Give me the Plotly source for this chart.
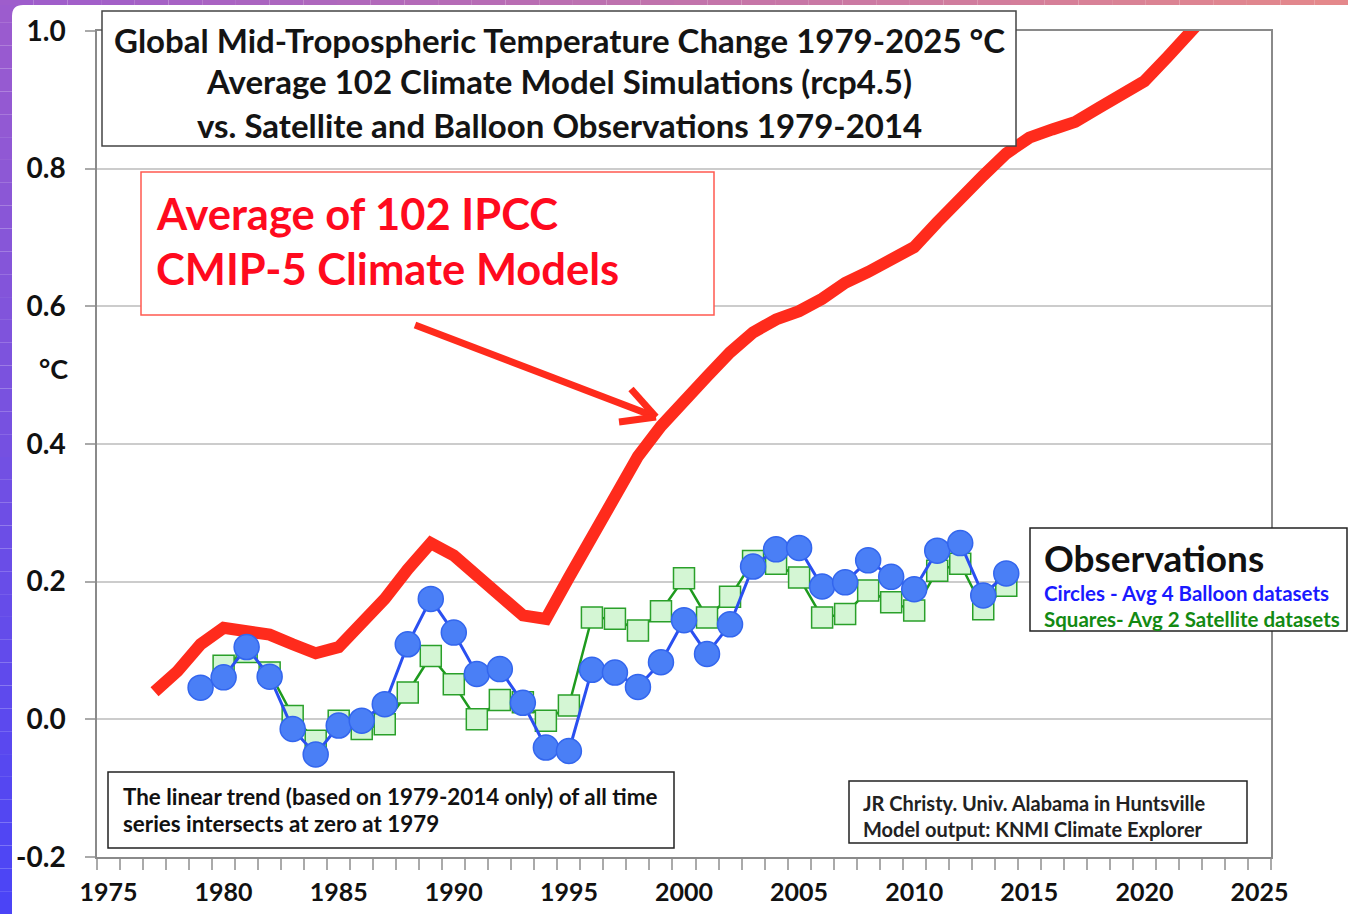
import plotly.graph_objects as go

# ---------------- data ----------------
model_years = list(range(1977, 2024))
model_vals = [0.040, 0.070, 0.109, 0.133, 0.128, 0.123, 0.109, 0.096, 0.105, 0.138,
              0.175, 0.218, 0.256, 0.238, 0.211, 0.180, 0.151, 0.146, 0.206, 0.265,
              0.324, 0.382, 0.426, 0.465, 0.498, 0.533, 0.562, 0.581, 0.593, 0.611,
              0.634, 0.650, 0.667, 0.686, 0.722, 0.758, 0.790, 0.822, 0.845, 0.857,
              0.868, 0.888, 0.906, 0.927, 0.962, 0.998, 1.035]

balloon_years = list(range(1979, 2015))
balloon_vals = [0.046, 0.061, 0.105, 0.062, -0.014, -0.051, -0.009, -0.002, 0.022, 0.109,
                0.175, 0.126, 0.066, 0.073, 0.024, -0.041, -0.046, 0.072, 0.068, 0.047,
                0.083, 0.144, 0.095, 0.138, 0.222, 0.247, 0.249, 0.193, 0.199, 0.231,
                0.207, 0.189, 0.245, 0.256, 0.180, 0.212]
satellite_years = list(range(1980, 2015))
satellite_vals = [0.078, 0.098, 0.068, 0.005, -0.031, -0.002, -0.014, -0.007, 0.039,
                  0.092, 0.051, 0.000, 0.028, 0.025, -0.002, 0.020, 0.148, 0.146, 0.129,
                  0.157, 0.205, 0.148, 0.178, 0.230, 0.226, 0.206, 0.148, 0.153, 0.187,
                  0.170, 0.158, 0.216, 0.226, 0.160, 0.194]

x_tick_vals = list(range(1975, 2026, 5))
x_tick_text = [str(v) for v in x_tick_vals]
y_tick_vals = [-0.2, 0.0, 0.2, 0.4, 0.6, 0.8, 1.0]
y_tick_text = ["-0.2", "0.0", "0.2", "0.4", "0.6", "0.8", "1.0"]

# ---------------- layout geometry ----------------
W, H = 1348, 914
L, R, T, B = 97, 1271, 31, 857
FONT = "Lato"


def px(x):
    return (x - L) / (R - L)


def py(y):
    return (B - y) / (B - T)


fig = go.Figure()

fig.add_trace(go.Scatter(x=model_years, y=model_vals, mode="lines",
                         line=dict(color="#ff2b1c", width=12), hoverinfo="skip",
                         showlegend=False))
fig.add_trace(go.Scatter(x=satellite_years, y=satellite_vals, mode="lines+markers",
                         line=dict(color="#1e9a1e", width=2.5),
                         marker=dict(symbol="square", size=21, color="#d4f6d4",
                                     line=dict(color="#2aa02a", width=1.5)),
                         showlegend=False))
fig.add_trace(go.Scatter(x=balloon_years, y=balloon_vals, mode="lines+markers",
                         line=dict(color="#2a4ff0", width=3),
                         marker=dict(symbol="circle", size=25, color="#4a7ff6",
                                     line=dict(color="#3366ee", width=1.5)),
                         showlegend=False))

shapes = []


def box(x0, y0, x1, y1, color="#222222", width=1.5):
    shapes.append(dict(type="rect", xref="paper", yref="paper", layer="above",
                       x0=px(x0), x1=px(x1), y0=py(y1), y1=py(y0),
                       fillcolor="white", line=dict(color=color, width=width)))


box(102, 11, 1016, 146, color="#444444")
box(141, 172, 714, 315, color="#ff5a50")
box(1030, 528, 1347, 631)
box(108, 772, 674, 848)
box(849, 781, 1247, 843)


# arrow
def seg(x0, y0, x1, y1, w=7):
    shapes.append(dict(type="line", xref="paper", yref="paper", layer="above",
                       x0=px(x0), y0=py(y0), x1=px(x1), y1=py(y1),
                       line=dict(color="#ff2b1c", width=w)))


seg(415, 325, 656, 417)
seg(631, 389, 656, 417)
seg(619, 422, 656, 417)


# gradient frame (purple / blue / pink)
def lerp(c0, c1, t):
    return "rgb(%d,%d,%d)" % tuple(round(a + (b - a) * t) for a, b in zip(c0, c1))


N = 40
top_l, bot_l, top_r = (157, 92, 205), (74, 68, 247), (229, 137, 138)
for i in range(N):
    y0 = H * i / N
    y1 = H * (i + 1) / N
    shapes.append(dict(type="rect", xref="paper", yref="paper", layer="above",
                       x0=px(0), x1=px(12), y0=py(y1), y1=py(y0),
                       fillcolor=lerp(top_l, bot_l, (i + 0.5) / N), line=dict(width=0)))
    x0 = W * i / N
    x1 = W * (i + 1) / N
    shapes.append(dict(type="rect", xref="paper", yref="paper", layer="above",
                       x0=px(x0), x1=px(x1), y0=py(5), y1=py(0),
                       fillcolor=lerp(top_l, top_r, (i + 0.5) / N), line=dict(width=0)))
shapes.append(dict(type="path", xref="paper", yref="paper", layer="above",
                   path="M %f,%f L %f,%f Q %f,%f %f,%f Z" % (
                       px(12), py(5), px(12), py(16), px(12), py(5), px(23), py(5)),
                   fillcolor="rgb(157,92,205)", line=dict(width=0)))

annotations = []


def txt(x, y, s, size, color="#111111", xanchor="left"):
    annotations.append(dict(xref="paper", yref="paper", x=px(x), y=py(y), text=s,
                            showarrow=False, xanchor=xanchor, yanchor="middle",
                            font=dict(family=FONT, size=size, color=color, weight="bold")))


txt(559, 40, "Global Mid-Tropospheric Temperature Change 1979-2025 °C", 33, "#141414", "center")
txt(559, 81, "Average 102 Climate Model Simulations (rcp4.5)", 33, "#141414", "center")
txt(559, 125, "vs. Satellite and Balloon Observations 1979-2014", 33, "#141414", "center")
txt(154, 213, "Average of 102 IPCC", 43.5, "#ff0a1e")
txt(154, 268, "CMIP-5 Climate Models", 43.5, "#ff0a1e")
txt(1042, 557, "Observations", 37, "#111111")
txt(1042, 593, "Circles - Avg 4 Balloon datasets", 20.5, "#1a1aff")
txt(1042, 619, "Squares- Avg 2 Satellite datasets", 20.5, "#138a13")
txt(121, 796, "The linear trend (based on 1979-2014 only) of all time", 22.4)
txt(121, 823, "series intersects at zero at 1979", 22.4)
txt(861, 803, "JR Christy. Univ. Alabama in Huntsville", 20, "#222222")
txt(861, 829, "Model output: KNMI Climate Explorer", 20, "#222222")
txt(53, 368, "°C", 27, "#111111", "center")

fig.update_layout(
    width=W, height=H, autosize=False,
    margin=dict(l=L, r=W - R, t=T, b=H - B, pad=0, autoexpand=False),
    paper_bgcolor="white", plot_bgcolor="white",
    showlegend=False,
    shapes=shapes, annotations=annotations,
    xaxis=dict(range=[1974.5, 2025.5], tickmode="array", tickvals=x_tick_vals,
               ticktext=x_tick_text, ticks="", showgrid=False, zeroline=False,
               automargin=False,
               showline=True, mirror=True, linecolor="#8a8a8a", linewidth=1.5,
               tickfont=dict(family=FONT, size=25, color="#111111", weight="bold"),
               ticklabelstandoff=12,
               minor=dict(ticks="outside", tickmode="linear", tick0=1974.5, dtick=1,
                          ticklen=11, tickcolor="#aaaaaa", tickwidth=1.5, showgrid=False)),
    yaxis=dict(range=[-0.2, 1.0], tickmode="array", tickvals=y_tick_vals,
               ticktext=y_tick_text, ticks="outside", ticklen=10, tickcolor="#aaaaaa",
               tickwidth=1.5, showgrid=True, gridcolor="#cccccc", gridwidth=2,
               zeroline=False, showline=True, mirror=True, linecolor="#8a8a8a",
               automargin=False,
               linewidth=1.5, ticklabelstandoff=14,
               tickfont=dict(family=FONT, size=28, color="#111111", weight="bold")),
)

fig.write_html("out.html", config={"displayModeBar": False},
               post_script="document.body.style.margin='0';"
                           "document.body.style.overflow='hidden';")
